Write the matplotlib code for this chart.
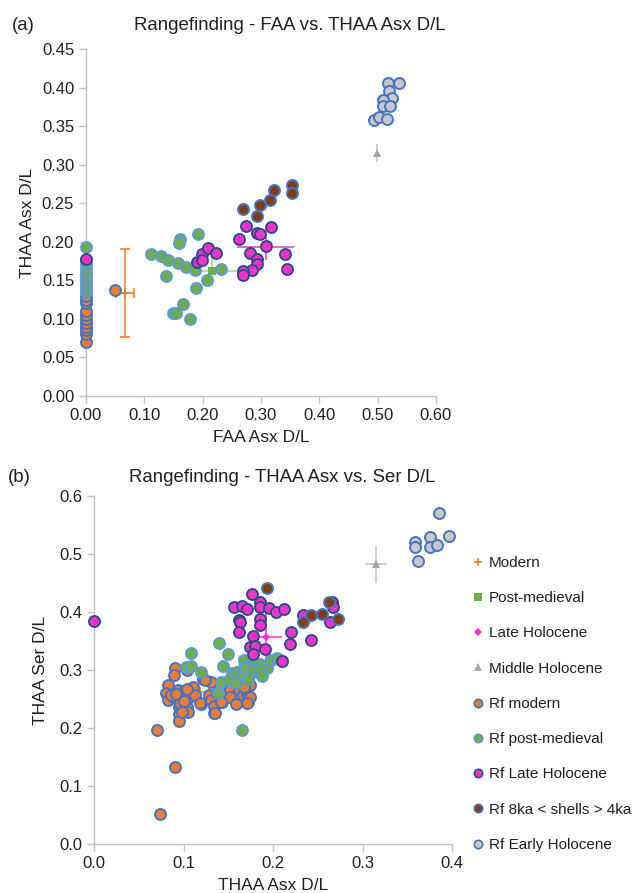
import matplotlib
matplotlib.use("Agg")
import matplotlib.pyplot as plt
from matplotlib.lines import Line2D

plt.rcParams["font.family"] = ["Liberation Sans", "DejaVu Sans"]

# ---------------- colours ----------------
ORANGE = "#ED7D31"
GREEN = "#70AD47"
PINK = "#FF33CC"
GREY = "#A5A5A5"
BROWN = "#843C0C"
EARLY = "#C8C8C8"
BLUE = "#4472C4"
LBLUE = "#5B9BD5"
NAVY = "#2E4A86"
TXT = "#1F1F1F"
AXC = "#BFBFBF"

# ---------------- panel (a): FAA vs THAA Asx D/L ----------------
a_mod_x = [0.0] * 11 + [0.050]
a_mod_y = [0.070, 0.080, 0.085, 0.090, 0.095, 0.100, 0.105, 0.110, 0.120, 0.125, 0.130, 0.137]

a_pm_x = [0.0] * 10 + [0.111, 0.129, 0.140, 0.137, 0.157, 0.162, 0.159, 0.171, 0.192, 0.187,
                       0.189, 0.166, 0.150, 0.155, 0.178, 0.207, 0.231]
a_pm_y = [0.135, 0.140, 0.145, 0.150, 0.155, 0.160, 0.165, 0.170, 0.175, 0.193,
          0.184, 0.181, 0.176, 0.156, 0.172, 0.204, 0.198, 0.167, 0.210, 0.163,
          0.140, 0.119, 0.108, 0.108, 0.100, 0.150, 0.165]

a_lh_x = [0.0, 0.190, 0.199, 0.199, 0.209, 0.223, 0.262, 0.274, 0.294, 0.299, 0.317,
          0.308, 0.281, 0.294, 0.293, 0.284, 0.270, 0.269, 0.341, 0.344]
a_lh_y = [0.177, 0.174, 0.184, 0.176, 0.192, 0.186, 0.203, 0.221, 0.212, 0.210, 0.219,
          0.195, 0.185, 0.178, 0.171, 0.163, 0.162, 0.157, 0.184, 0.165]

a_mh_x = [0.269, 0.298, 0.294, 0.322, 0.316, 0.354, 0.353]
a_mh_y = [0.242, 0.248, 0.233, 0.267, 0.254, 0.273, 0.263]

a_eh_x = [0.517, 0.536, 0.519, 0.525, 0.509, 0.509, 0.521, 0.494, 0.503, 0.516]
a_eh_y = [0.406, 0.406, 0.396, 0.387, 0.384, 0.376, 0.376, 0.358, 0.362, 0.359]

# group means with error bars: x, y, xerr, yerr
a_means = {
    "Modern": (0.067, 0.134, 0.016, 0.057),
    "Post-medieval": (0.216, 0.162, 0.049, 0.019),
    "Late Holocene": (0.308, 0.193, 0.049, 0.017),
    "Middle Holocene": (0.499, 0.315, 0.004, 0.012),
}

# ---------------- panel (b): THAA Asx vs Ser D/L ----------------
b_mod_x = [0.070, 0.090, 0.074, 0.091, 0.089, 0.083, 0.080, 0.083, 0.089, 0.094, 0.096, 0.095,
           0.095, 0.095, 0.100, 0.105, 0.105, 0.104, 0.105, 0.104, 0.111, 0.113, 0.119, 0.122,
           0.131, 0.128, 0.131, 0.134, 0.134, 0.137, 0.143, 0.149, 0.152, 0.152, 0.159, 0.162,
           0.167, 0.171, 0.172, 0.174, 0.168, 0.172, 0.118, 0.135, 0.174, 0.104, 0.124, 0.096,
           0.098, 0.142, 0.171, 0.086, 0.092, 0.100]
b_mod_y = [0.197, 0.133, 0.051, 0.304, 0.291, 0.274, 0.261, 0.249, 0.253, 0.266, 0.248, 0.237,
           0.224, 0.212, 0.263, 0.267, 0.251, 0.237, 0.228, 0.300, 0.271, 0.257, 0.242, 0.284,
           0.280, 0.257, 0.248, 0.238, 0.225, 0.260, 0.244, 0.260, 0.266, 0.253, 0.241, 0.266,
           0.257, 0.259, 0.245, 0.274, 0.271, 0.253, 0.243, 0.225, 0.254, 0.268, 0.283, 0.243,
           0.228, 0.244, 0.243, 0.256, 0.258, 0.246]

b_pm_x = [0.140, 0.108, 0.150, 0.103, 0.108, 0.119, 0.144, 0.168, 0.176, 0.185, 0.193, 0.198,
          0.204, 0.154, 0.159, 0.169, 0.177, 0.182, 0.165, 0.142, 0.151, 0.159, 0.138, 0.165,
          0.169, 0.178, 0.185, 0.210, 0.188, 0.172]
b_pm_y = [0.347, 0.329, 0.328, 0.305, 0.306, 0.297, 0.306, 0.317, 0.311, 0.310, 0.304, 0.317,
          0.320, 0.295, 0.295, 0.306, 0.296, 0.297, 0.294, 0.280, 0.282, 0.277, 0.260, 0.197,
          0.304, 0.300, 0.300, 0.316, 0.290, 0.285]

b_lh_x = [0.0, 0.176, 0.156, 0.165, 0.171, 0.185, 0.185, 0.195, 0.203, 0.212, 0.162, 0.163,
          0.185, 0.186, 0.162, 0.178, 0.220, 0.219, 0.242, 0.174, 0.180, 0.191, 0.178, 0.210,
          0.233, 0.264, 0.266, 0.267]
b_lh_y = [0.384, 0.431, 0.408, 0.410, 0.405, 0.417, 0.409, 0.406, 0.400, 0.405, 0.387, 0.383,
          0.388, 0.378, 0.366, 0.359, 0.365, 0.344, 0.352, 0.340, 0.341, 0.337, 0.328, 0.316,
          0.394, 0.382, 0.418, 0.409]

b_mh_x = [0.193, 0.242, 0.233, 0.255, 0.263, 0.273]
b_mh_y = [0.441, 0.394, 0.382, 0.396, 0.418, 0.388]

b_eh_x = [0.385, 0.359, 0.359, 0.375, 0.375, 0.383, 0.362, 0.397]
b_eh_y = [0.570, 0.520, 0.512, 0.530, 0.512, 0.516, 0.488, 0.531]

b_means = {
    "Modern": (0.128, 0.262, 0.010, 0.020),
    "Post-medieval": (0.162, 0.300, 0.012, 0.025),
    "Late Holocene": (0.192, 0.357, 0.018, 0.043),
    "Middle Holocene": (0.315, 0.482, 0.012, 0.032),
}

mean_style = {
    "Modern": dict(marker="+", color=ORANGE, ecolor=ORANGE, ms=7, mew=1.2),
    "Post-medieval": dict(marker="s", color=GREEN, ecolor="#A9D18E", ms=6, mew=0),
    "Late Holocene": dict(marker="D", color=PINK, ecolor=PINK, ms=4.5, mew=0),
    "Middle Holocene": dict(marker="^", color=GREY, ecolor="#BFBFBF", ms=6, mew=0),
}

rf_series = [
    ("Rf modern", ORANGE, BLUE),
    ("Rf post-medieval", GREEN, LBLUE),
    ("Rf Late Holocene", PINK, NAVY),
    ("Rf 8ka < shells > 4ka", BROWN, BLUE),
    ("Rf Early Holocene", EARLY, BLUE),
]


def draw_panel(ax, means, rf_data):
    for name, (mx, my, xe, ye) in means.items():
        st = mean_style[name]
        ax.errorbar(mx, my, xerr=xe, yerr=ye, fmt=st["marker"], color=st["color"],
                    ecolor=st["ecolor"], elinewidth=1.1, capsize=3.5, capthick=1.1,
                    ms=st["ms"], mew=st["mew"], zorder=2)
    for (label, fc, ec), (xs, ys) in zip(rf_series, rf_data):
        ax.scatter(xs, ys, s=62, c=fc, edgecolors=ec, linewidths=1.4, zorder=3,
                   clip_on=False)
    for side in ("top", "right"):
        ax.spines[side].set_visible(False)
    for side in ("left", "bottom"):
        ax.spines[side].set_color(AXC)
        ax.spines[side].set_linewidth(1.0)
    ax.tick_params(colors=AXC, labelcolor=TXT, labelsize=12, length=5, width=1.0)


fig = plt.figure(figsize=(6.36, 8.93), dpi=100)

ax1 = fig.add_axes([0.1352, 0.5566, 0.5503, 0.3885])
draw_panel(ax1, a_means, [(a_mod_x, a_mod_y), (a_pm_x, a_pm_y), (a_lh_x, a_lh_y),
                          (a_mh_x, a_mh_y), (a_eh_x, a_eh_y)])
ax1.set_xlim(0, 0.6)
ax1.set_ylim(0, 0.45)
ax1.set_xticks([i / 10 for i in range(7)])
ax1.set_yticks([i * 0.05 for i in range(10)])
ax1.xaxis.set_major_formatter(matplotlib.ticker.FormatStrFormatter("%.2f"))
ax1.yaxis.set_major_formatter(matplotlib.ticker.FormatStrFormatter("%.2f"))
ax1.set_xlabel("FAA Asx D/L", fontsize=12.5, color=TXT, labelpad=5)
ax1.set_ylabel("THAA Asx D/L", fontsize=12.5, color=TXT, labelpad=5)

ax2 = fig.add_axes([0.1478, 0.0549, 0.5629, 0.3897])
draw_panel(ax2, b_means, [(b_mod_x, b_mod_y), (b_pm_x, b_pm_y), (b_lh_x, b_lh_y),
                          (b_mh_x, b_mh_y), (b_eh_x, b_eh_y)])
ax2.set_xlim(0, 0.4)
ax2.set_ylim(0, 0.6)
ax2.set_xticks([i / 10 for i in range(5)])
ax2.set_yticks([i / 10 for i in range(7)])
ax2.xaxis.set_major_formatter(matplotlib.ticker.FormatStrFormatter("%.1f"))
ax2.yaxis.set_major_formatter(matplotlib.ticker.FormatStrFormatter("%.1f"))
ax2.set_xlabel("THAA Asx D/L", fontsize=12.5, color=TXT, labelpad=5)
ax2.set_ylabel("THAA Ser D/L", fontsize=12.5, color=TXT, labelpad=8)

fig.text(290 / 636, 1 - 25 / 893, "Rangefinding - FAA vs. THAA Asx D/L",
         ha="center", va="center", fontsize=13.4, color=TXT)
fig.text(12 / 636, 1 - 25 / 893, "(a)", ha="left", va="center", fontsize=13.4, color=TXT)
fig.text(282 / 636, 1 - 477 / 893, "Rangefinding - THAA Asx vs. Ser D/L",
         ha="center", va="center", fontsize=13.4, color=TXT)
fig.text(8 / 636, 1 - 477 / 893, "(b)", ha="left", va="center", fontsize=13.4, color=TXT)

# legend
handles = []
for name in ["Modern", "Post-medieval", "Late Holocene", "Middle Holocene"]:
    st = mean_style[name]
    handles.append(Line2D([], [], ls="none", marker=st["marker"], color=st["color"],
                          ms=st["ms"] * 0.9, mew=st["mew"], label=name))
for label, fc, ec in rf_series:
    handles.append(Line2D([], [], ls="none", marker="o", mfc=fc, mec=ec, mew=1.2,
                          ms=6, label=label))
leg = fig.legend(handles=handles, loc="upper left", bbox_to_anchor=(472 / 636, 1 - 556 / 893),
                 frameon=False, fontsize=11, labelspacing=1.39, handlelength=0.8,
                 handletextpad=0.3, borderaxespad=0, borderpad=0)
for t in leg.get_texts():
    t.set_color(TXT)

fig.savefig("out.png", dpi=100)
